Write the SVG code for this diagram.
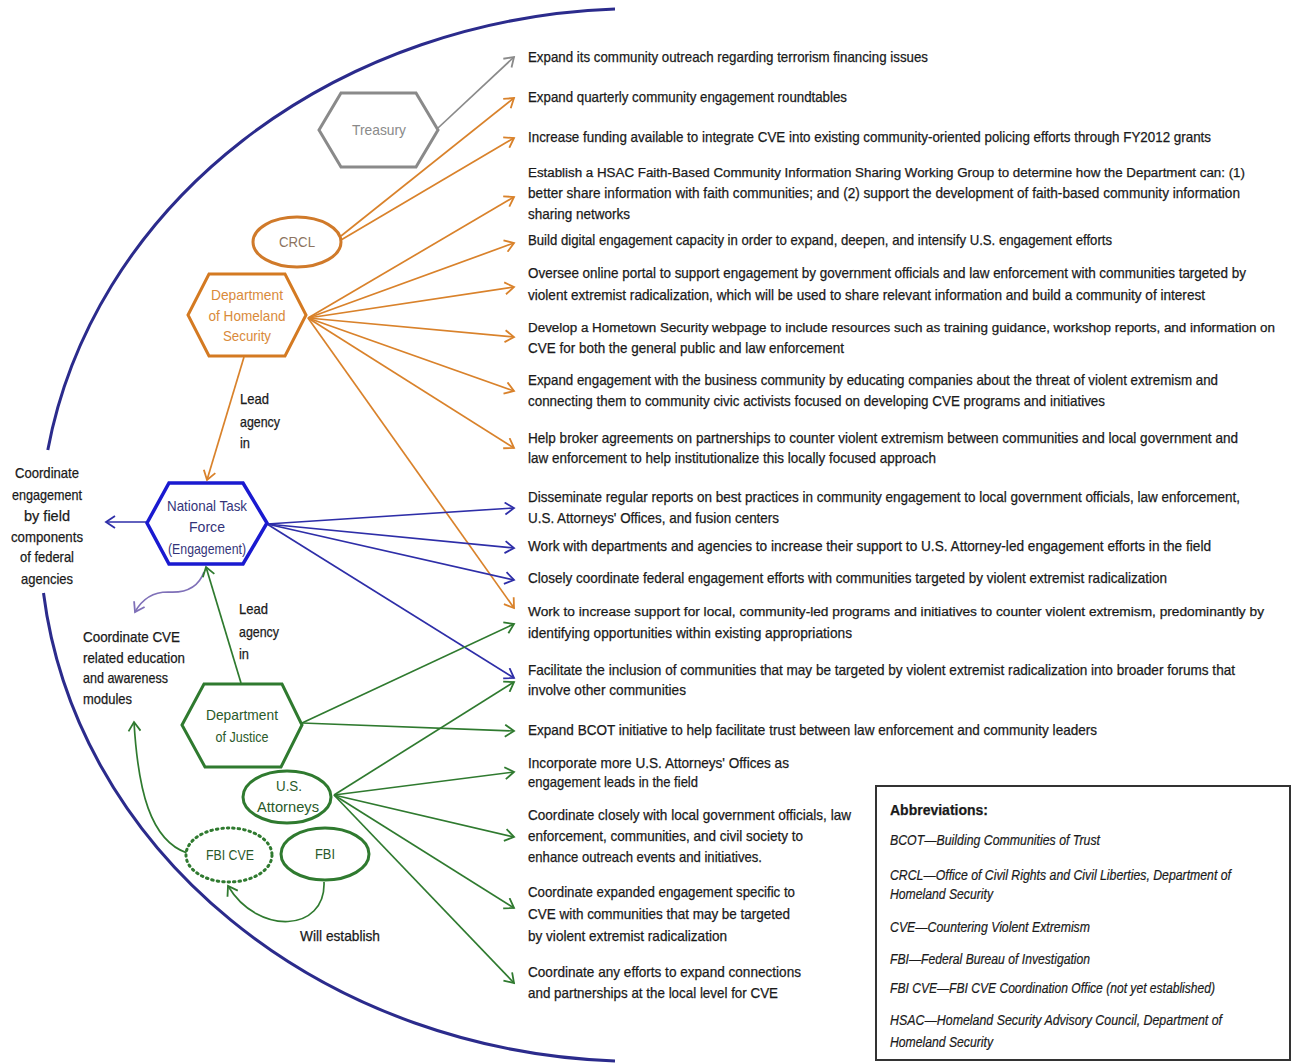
<svg xmlns="http://www.w3.org/2000/svg" width="1299" height="1064" viewBox="0 0 1299 1064">
<style>
.t{font-family:"Liberation Sans",Arial,sans-serif;font-size:14.5px;fill:#1a1a1a;stroke:#1a1a1a;stroke-width:0.25}
.t .s{font-size:12.5px}
.ab{font-family:"Liberation Sans",Arial,sans-serif;font-size:14px;font-style:italic;fill:#1a1a1a;stroke:#1a1a1a;stroke-width:0.2}
.nl{font-family:"Liberation Sans",Arial,sans-serif;font-size:15px;text-anchor:middle}
.lb{font-family:"Liberation Sans",Arial,sans-serif;font-size:14.5px;fill:#1a1a1a;stroke:#1a1a1a;stroke-width:0.25}
.c{fill:none;stroke-width:1.7}
.or{stroke:#d9822b}.bl{stroke:#2e2ea8}.gr{stroke:#2f7a2f}.gy{stroke:#8a8a8a}.pu{stroke:#7f70b8}
</style>
<defs>
<marker id="mo" markerUnits="userSpaceOnUse" markerWidth="12" markerHeight="14" refX="10" refY="7" orient="auto"><path d="M1,1 L10,7 L1,13" fill="none" stroke="#d9822b" stroke-width="1.8"/></marker>
<marker id="mb" markerUnits="userSpaceOnUse" markerWidth="12" markerHeight="14" refX="10" refY="7" orient="auto"><path d="M1,1 L10,7 L1,13" fill="none" stroke="#2e2ea8" stroke-width="1.8"/></marker>
<marker id="mg" markerUnits="userSpaceOnUse" markerWidth="12" markerHeight="14" refX="10" refY="7" orient="auto"><path d="M1,1 L10,7 L1,13" fill="none" stroke="#2f7a2f" stroke-width="1.8"/></marker>
<marker id="my" markerUnits="userSpaceOnUse" markerWidth="12" markerHeight="14" refX="10" refY="7" orient="auto"><path d="M1,1 L10,7 L1,13" fill="none" stroke="#8a8a8a" stroke-width="1.8"/></marker>
<marker id="mp" markerUnits="userSpaceOnUse" markerWidth="12" markerHeight="14" refX="10" refY="7" orient="auto"><path d="M1,1 L10,7 L1,13" fill="none" stroke="#7f70b8" stroke-width="1.8"/></marker>
</defs>
<rect width="1299" height="1064" fill="#ffffff"/>

<g id="boundary" fill="none" stroke="#2b2b8c" stroke-width="3">
<path d="M615 9 A600 527 0 0 0 47.8 450"/>
<path d="M43.5 593 A600 527 0 0 0 615 1061"/>
</g>

<g id="connectors">
<path class="c gy" d="M438 128 L514 57" marker-end="url(#my)"/>
<path class="c or" d="M341 236 L514 98" marker-end="url(#mo)"/>
<path class="c or" d="M341 240 L514 138" marker-end="url(#mo)"/>
<path class="c or" d="M308 318 L514 197" marker-end="url(#mo)"/>
<path class="c or" d="M308 318 L514 243" marker-end="url(#mo)"/>
<path class="c or" d="M308 318 L514 287" marker-end="url(#mo)"/>
<path class="c or" d="M308 318 L514 337" marker-end="url(#mo)"/>
<path class="c or" d="M308 318 L514 391" marker-end="url(#mo)"/>
<path class="c or" d="M308 318 L514 448" marker-end="url(#mo)"/>
<path class="c or" d="M308 318 L514 608" marker-end="url(#mo)"/>
<path class="c or" d="M244 357 L207 480" marker-end="url(#mo)"/>
<path class="c bl" d="M267 524 L514 508" marker-end="url(#mb)"/>
<path class="c bl" d="M267 524 L514 548" marker-end="url(#mb)"/>
<path class="c bl" d="M267 524 L514 580" marker-end="url(#mb)"/>
<path class="c bl" d="M267 524 L514 678" marker-end="url(#mb)"/>
<path class="c bl" d="M148 522 L106 522" marker-end="url(#mb)"/>
<path class="c pu" d="M204 572 Q196 594 168 592 Q146 592 135 612" marker-end="url(#mp)"/>
<path class="c gr" d="M241 683 L206 567" marker-end="url(#mg)"/>
<path class="c gr" d="M302 723 L514 624" marker-end="url(#mg)"/>
<path class="c gr" d="M302 723 L514 731" marker-end="url(#mg)"/>
<path class="c gr" d="M334 795 L514 682" marker-end="url(#mg)"/>
<path class="c gr" d="M334 795 L514 772" marker-end="url(#mg)"/>
<path class="c gr" d="M334 795 L514 837" marker-end="url(#mg)"/>
<path class="c gr" d="M334 795 L514 908" marker-end="url(#mg)"/>
<path class="c gr" d="M334 795 L514 983" marker-end="url(#mg)"/>
<path class="c gr" d="M324 882 C326 932 258 936 228 886" marker-end="url(#mg)"/>
<path class="c gr" d="M187 853 C150 840 138 790 134 722" marker-end="url(#mg)"/>
</g>

<g id="treasury">
<polygon points="319,130 341,93 416,93 438,130 416,167 341,167" fill="#fff" stroke="#8a8a8a" stroke-width="3"/>
<text class="nl" x="379" y="135" fill="#8a8a8a" textLength="54" lengthAdjust="spacingAndGlyphs">Treasury</text>
</g>
<g id="crcl">
<ellipse cx="297" cy="242" rx="44" ry="25" fill="#fff" stroke="#d07a2a" stroke-width="3"/>
<text class="nl" x="297" y="247" fill="#8c7360" textLength="36" lengthAdjust="spacingAndGlyphs">CRCL</text>
</g>
<g id="dhs">
<polygon points="188,315 209,274 285,274 306,315 285,356 209,356" fill="#fff" stroke="#d47a22" stroke-width="3"/>
<text class="nl" x="247" y="300" fill="#d98a3a" textLength="72" lengthAdjust="spacingAndGlyphs">Department</text>
<text class="nl" x="247" y="321" fill="#d98a3a" textLength="77" lengthAdjust="spacingAndGlyphs">of Homeland</text>
<text class="nl" x="247" y="341" fill="#d98a3a" font-size="12" textLength="48" lengthAdjust="spacingAndGlyphs">Security</text>
</g>
<g id="ntf">
<polygon points="147,523 169,483 243,483 267,523 243,564 169,564" fill="#fff" stroke="#1a1ad0" stroke-width="3.5"/>
<text class="nl" x="207" y="511" fill="#34347a" textLength="80" lengthAdjust="spacingAndGlyphs">National Task</text>
<text class="nl" x="207" y="532" fill="#34347a" textLength="36" lengthAdjust="spacingAndGlyphs">Force</text>
<text class="nl" x="207" y="554" fill="#34347a" textLength="78" lengthAdjust="spacingAndGlyphs">(Engagement)</text>
</g>
<g id="doj">
<polygon points="182,725 204,684 282,684 302,725 281,767 205,767" fill="#fff" stroke="#2f7a2f" stroke-width="3"/>
<text class="nl" x="242" y="720" fill="#2a5a2a" textLength="72" lengthAdjust="spacingAndGlyphs">Department</text>
<text class="nl" x="242" y="742" fill="#2a5a2a" textLength="53" lengthAdjust="spacingAndGlyphs">of Justice</text>
</g>
<g id="us-attorneys">
<ellipse cx="287" cy="797" rx="44" ry="26" fill="#fff" stroke="#2f7a2f" stroke-width="3"/>
<text class="nl" x="289" y="791" fill="#2a5a2a" textLength="26" lengthAdjust="spacingAndGlyphs">U.S.</text>
<text class="nl" x="288" y="812" fill="#2a5a2a" textLength="62" lengthAdjust="spacingAndGlyphs">Attorneys</text>
</g>
<g id="fbi-cve">
<ellipse cx="229" cy="855" rx="43" ry="27" fill="#fff" stroke="#2f7a2f" stroke-width="3" stroke-dasharray="1.5 4" stroke-linecap="round"/>
<text class="nl" x="230" y="860" fill="#2a5a2a" textLength="48" lengthAdjust="spacingAndGlyphs">FBI CVE</text>
</g>
<g id="fbi">
<ellipse cx="325" cy="854" rx="44" ry="26" fill="#fff" stroke="#2f7a2f" stroke-width="3"/>
<text class="nl" x="325" y="859" fill="#2a5a2a" textLength="20" lengthAdjust="spacingAndGlyphs">FBI</text>
</g>

<g id="edge-labels">
<text class="lb" x="240" y="404" textLength="29" lengthAdjust="spacingAndGlyphs">Lead</text>
<text class="lb" x="240" y="427" textLength="40" lengthAdjust="spacingAndGlyphs">agency</text>
<text class="lb" x="240" y="448" textLength="10" lengthAdjust="spacingAndGlyphs">in</text>
<text class="lb" x="239" y="614" textLength="29" lengthAdjust="spacingAndGlyphs">Lead</text>
<text class="lb" x="239" y="637" textLength="40" lengthAdjust="spacingAndGlyphs">agency</text>
<text class="lb" x="239" y="659" textLength="10" lengthAdjust="spacingAndGlyphs">in</text>
<text class="lb" x="300" y="941" textLength="80" lengthAdjust="spacingAndGlyphs">Will establish</text>
</g>

<g id="side-label-field" class="lb" text-anchor="middle">
<text x="47" y="478" textLength="64" lengthAdjust="spacingAndGlyphs">Coordinate</text>
<text x="47" y="500" textLength="70" lengthAdjust="spacingAndGlyphs">engagement</text>
<text x="47" y="521" textLength="46" lengthAdjust="spacingAndGlyphs">by field</text>
<text x="47" y="542" textLength="72" lengthAdjust="spacingAndGlyphs">components</text>
<text x="47" y="562" textLength="54" lengthAdjust="spacingAndGlyphs">of federal</text>
<text x="47" y="584" textLength="52" lengthAdjust="spacingAndGlyphs">agencies</text>
</g>
<g id="side-label-cve" class="lb">
<text x="83" y="642" textLength="97" lengthAdjust="spacingAndGlyphs">Coordinate CVE</text>
<text x="83" y="663" textLength="102" lengthAdjust="spacingAndGlyphs">related education</text>
<text x="83" y="683" textLength="85" lengthAdjust="spacingAndGlyphs">and awareness</text>
<text x="83" y="704" textLength="49" lengthAdjust="spacingAndGlyphs">modules</text>
</g>

<g id="actions" class="t">
<text x="528" y="62" textLength="400" lengthAdjust="spacingAndGlyphs">Expand its community outreach regarding terrorism financing issues</text>
<text x="528" y="102" textLength="319" lengthAdjust="spacingAndGlyphs">Expand quarterly community engagement roundtables</text>
<text x="528" y="142" textLength="683" lengthAdjust="spacingAndGlyphs">Increase funding available to integrate CVE into existing community-oriented policing efforts through FY2012 grants</text>
<text class="s" x="528" y="177" textLength="717" lengthAdjust="spacingAndGlyphs">Establish a HSAC Faith-Based Community Information Sharing Working Group to determine how the Department can: (1)</text>
<text x="528" y="198" textLength="712" lengthAdjust="spacingAndGlyphs">better share information with faith communities; and (2) support the development of faith-based community information</text>
<text x="528" y="219" textLength="102" lengthAdjust="spacingAndGlyphs">sharing networks</text>
<text x="528" y="245" textLength="584" lengthAdjust="spacingAndGlyphs">Build digital engagement capacity in order to expand, deepen, and intensify U.S. engagement efforts</text>
<text x="528" y="278" textLength="718" lengthAdjust="spacingAndGlyphs">Oversee online portal to support engagement by government officials and law enforcement with communities targeted by</text>
<text x="528" y="300" textLength="677" lengthAdjust="spacingAndGlyphs">violent extremist radicalization, which will be used to share relevant information and build a community of interest</text>
<text class="s" x="528" y="332" textLength="747" lengthAdjust="spacingAndGlyphs">Develop a Hometown Security webpage to include resources such as training guidance, workshop reports, and information on</text>
<text x="528" y="353" textLength="316" lengthAdjust="spacingAndGlyphs">CVE for both the general public and law enforcement</text>
<text x="528" y="385" textLength="690" lengthAdjust="spacingAndGlyphs">Expand engagement with the business community by educating companies about the threat of violent extremism and</text>
<text x="528" y="406" textLength="577" lengthAdjust="spacingAndGlyphs">connecting them to community civic activists focused on developing CVE programs and initiatives</text>
<text x="528" y="443" textLength="710" lengthAdjust="spacingAndGlyphs">Help broker agreements on partnerships to counter violent extremism between communities and local government and</text>
<text x="528" y="463" textLength="408" lengthAdjust="spacingAndGlyphs">law enforcement to help institutionalize this locally focused approach</text>
<text x="528" y="502" textLength="712" lengthAdjust="spacingAndGlyphs">Disseminate regular reports on best practices in community engagement to local government officials, law enforcement,</text>
<text x="528" y="523" textLength="251" lengthAdjust="spacingAndGlyphs">U.S. Attorneys' Offices, and fusion centers</text>
<text x="528" y="551" textLength="683" lengthAdjust="spacingAndGlyphs">Work with departments and agencies to increase their support to U.S. Attorney-led engagement efforts in the field</text>
<text x="528" y="583" textLength="639" lengthAdjust="spacingAndGlyphs">Closely coordinate federal engagement efforts with communities targeted by violent extremist radicalization</text>
<text class="s" x="528" y="616" textLength="736" lengthAdjust="spacingAndGlyphs">Work to increase support for local, community-led programs and initiatives to counter violent extremism, predominantly by</text>
<text x="528" y="638" textLength="324" lengthAdjust="spacingAndGlyphs">identifying opportunities within existing appropriations</text>
<text x="528" y="675" textLength="707" lengthAdjust="spacingAndGlyphs">Facilitate the inclusion of communities that may be targeted by violent extremist radicalization into broader forums that</text>
<text x="528" y="695" textLength="158" lengthAdjust="spacingAndGlyphs">involve other communities</text>
<text x="528" y="735" textLength="569" lengthAdjust="spacingAndGlyphs">Expand BCOT initiative to help facilitate trust between law enforcement and community leaders</text>
<text x="528" y="768" textLength="261" lengthAdjust="spacingAndGlyphs">Incorporate more U.S. Attorneys' Offices as</text>
<text x="528" y="787" textLength="170" lengthAdjust="spacingAndGlyphs">engagement leads in the field</text>
<text x="528" y="820" textLength="323" lengthAdjust="spacingAndGlyphs">Coordinate closely with local government officials, law</text>
<text x="528" y="841" textLength="275" lengthAdjust="spacingAndGlyphs">enforcement, communities, and civil society to</text>
<text x="528" y="862" textLength="234" lengthAdjust="spacingAndGlyphs">enhance outreach events and initiatives.</text>
<text x="528" y="897" textLength="267" lengthAdjust="spacingAndGlyphs">Coordinate expanded engagement specific to</text>
<text x="528" y="919" textLength="262" lengthAdjust="spacingAndGlyphs">CVE with communities that may be targeted</text>
<text x="528" y="941" textLength="199" lengthAdjust="spacingAndGlyphs">by violent extremist radicalization</text>
<text x="528" y="977" textLength="273" lengthAdjust="spacingAndGlyphs">Coordinate any efforts to expand connections</text>
<text x="528" y="998" textLength="250" lengthAdjust="spacingAndGlyphs">and partnerships at the local level for CVE</text>
</g>

<g id="abbreviations">
<rect x="876" y="786" width="414" height="274" fill="#fff" stroke="#333" stroke-width="2"/>
<text class="lb" x="890" y="815" font-weight="bold" textLength="98" lengthAdjust="spacingAndGlyphs">Abbreviations:</text>
<text class="ab" x="890" y="845" textLength="210" lengthAdjust="spacingAndGlyphs">BCOT—Building Communities of Trust</text>
<text class="ab" x="890" y="880" textLength="341" lengthAdjust="spacingAndGlyphs">CRCL—Office of Civil Rights and Civil Liberties, Department of</text>
<text class="ab" x="890" y="899" textLength="103" lengthAdjust="spacingAndGlyphs">Homeland Security</text>
<text class="ab" x="890" y="932" textLength="200" lengthAdjust="spacingAndGlyphs">CVE—Countering Violent Extremism</text>
<text class="ab" x="890" y="964" textLength="200" lengthAdjust="spacingAndGlyphs">FBI—Federal Bureau of Investigation</text>
<text class="ab" x="890" y="993" font-size="11" textLength="325" lengthAdjust="spacingAndGlyphs">FBI CVE—FBI CVE Coordination Office (not yet established)</text>
<text class="ab" x="890" y="1025" textLength="332" lengthAdjust="spacingAndGlyphs">HSAC—Homeland Security Advisory Council, Department of</text>
<text class="ab" x="890" y="1047" textLength="103" lengthAdjust="spacingAndGlyphs">Homeland Security</text>
</g>
</svg>
